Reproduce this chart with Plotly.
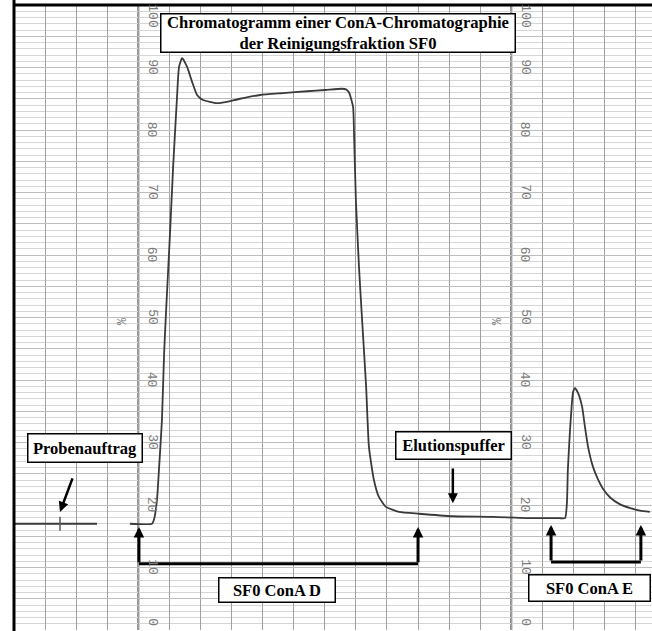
import plotly.graph_objects as go

# ---- data (x: chart-paper divisions, y: % signal) ----
trace_x = [0.03, 2.67, None, 3.73, 4.44, 4.50, 4.60, 4.67, 4.76, 4.83, 4.89, 5.02, 5.12, 5.24, 5.31,
           5.41, 5.57, 5.73, 5.89, 6.08, 6.53, 6.85, 7.27, 7.92, 8.65, 9.43, 10.01, 10.55, 10.68, 10.78,
           10.91, 10.94, 11.00, 11.10, 11.20, 11.33, 11.42, 11.58, 11.74, 11.97, 12.39, 13.03,
           14.12, 15.41, 16.47, 17.54, 17.73, 17.79, 17.82, 17.89, 17.95, 17.99, 18.05, 18.15, 18.28,
           18.37, 18.47, 18.63, 18.79, 18.95, 19.18, 19.50, 19.83, 20.14, 20.46]
trace_y = [17.0, 17.0, None, 17.0, 17.0, 17.6, 20.8, 26.1, 33.6, 44.3, 50.7, 63.5, 74.1, 84.8, 90.1,
           91.5, 90.1, 87.7, 85.6, 84.8, 84.3, 84.5, 85.0, 85.6, 85.9, 86.2, 86.4, 86.6, 86.5, 86.0,
           83.7, 79.5, 68.8, 58.1, 49.6, 38.9, 29.3, 24.0, 21.3, 19.7, 18.9, 18.6,
           18.2, 18.1, 17.9, 17.9, 17.9, 20.3, 25.6, 32.0, 36.3, 38.1, 38.7, 37.9, 35.7,
           32.5, 29.3, 26.1, 24.1, 22.6, 21.2, 20.1, 19.5, 19.1, 18.9]

scale_values = [0, 10, 20, 30, 40, 50, 60, 70, 80, 90, 100]
scale_label_pos = [1.2, 10, 20, 30, 40, 50, 60, 70, 80, 90, 98.3]
scale_columns = [4.45, 16.45]
heavy_lines = [4, 16]
percent_columns = [3.41, 15.47]
percent_level = 49.3
injection_mark_x = [1.48]
injection_mark_y = [17.0]

title_lines = ["Chromatogramm einer ConA-Chromatographie", "der Reinigungsfraktion SF0"]
label_sample = "Probenauftrag"
label_elution = "Elutionspuffer"
label_d = "SF0 ConA D"
label_e = "SF0 ConA E"

# bracket data: (left, right, level, tip)
bracket_d = (4.02, 13.0, 10.6, 16.5)
bracket_e = (17.28, 20.17, 10.9, 16.8)

W, H = 652, 631
ML, MT, MB = 14, 5, 1
px_per_div = 31.08
x_max = (W - ML) / px_per_div

fig = go.Figure()

fig.add_trace(go.Scatter(x=trace_x, y=trace_y, mode="lines",
                         line=dict(color="#3a3a3a", width=1.8, shape="spline", smoothing=0.5),
                         connectgaps=False, hoverinfo="skip", showlegend=False))
fig.add_trace(go.Scatter(x=injection_mark_x, y=injection_mark_y, mode="markers",
                         marker=dict(symbol="line-ns", size=10, line=dict(color="#555", width=1.5)),
                         hoverinfo="skip", showlegend=False))

shapes = []
for hx in heavy_lines:
    shapes.append(dict(type="line", xref="x", yref="paper", x0=hx, x1=hx, y0=0, y1=1,
                       line=dict(color="#666666", width=2), layer="below"))
# paper frame (left and top)
shapes.append(dict(type="line", xref="paper", yref="paper", x0=0, x1=0, y0=-0.01, y1=1.01,
                   line=dict(color="black", width=3)))
shapes.append(dict(type="line", xref="paper", yref="paper", x0=0, x1=1, y0=1, y1=1,
                   line=dict(color="black", width=3)))

annotations = []
serif = dict(family="Liberation Serif", size=16.5, color="black", weight="bold")
serif_title = dict(family="Liberation Serif", size=16.6, color="black", weight="bold")

for col in scale_columns:
    for v, pos in zip(scale_values, scale_label_pos):
        annotations.append(dict(x=col, y=pos, xref="x", yref="y", text=str(v), showarrow=False,
                                textangle=90, font=dict(family="Liberation Mono", size=13, color="#7a7a7a")))
for col in percent_columns:
    annotations.append(dict(x=col, y=percent_level, xref="x", yref="y", text="%", showarrow=False,
                            textangle=90, font=dict(family="Liberation Mono", size=12, color="#7a7a7a")))

def box(text, xc, yc, w, h, font=serif):
    return dict(x=xc, y=yc, xref="x", yref="y", text=text, showarrow=False, font=font,
                bgcolor="white", bordercolor="black", borderwidth=1.5, borderpad=0,
                width=w, height=h, align="center", valign="middle")

annotations.append(box("<br>".join(title_lines), 10.42, 95.5, 353, 37, serif_title))
annotations.append(box(label_sample, 2.29, 29.1, 113, 27))
annotations.append(box(label_elution, 14.14, 29.5, 114, 26))
annotations.append(box(label_d, 8.46, 6.4, 115, 23))
annotations.append(box(label_e, 18.52, 6.7, 120, 25))

def arrow(x, y, ax, ay, w=3, size=0.7):
    return dict(x=x, y=y, ax=ax, ay=ay, xref="x", yref="y", axref="x", ayref="y", text="",
                showarrow=True, arrowhead=2, arrowwidth=w, arrowsize=size, arrowcolor="black", standoff=0)

annotations.append(arrow(1.48, 18.9, 1.90, 24.5, w=2.5, size=0.8))
annotations.append(arrow(14.12, 20.3, 14.12, 26.1, w=2.5, size=0.8))

for (l, r, lev, tip) in (bracket_d, bracket_e):
    shapes.append(dict(type="line", xref="x", yref="y", x0=l, x1=r, y0=lev, y1=lev,
                       line=dict(color="black", width=3)))
    annotations.append(arrow(l, tip, l, lev))
    annotations.append(arrow(r, tip, r, lev))

fig.update_layout(
    width=W, height=H,
    margin=dict(l=ML, r=0, t=MT, b=MB, pad=0),
    paper_bgcolor="white", plot_bgcolor="white",
    xaxis=dict(range=[0, x_max], showgrid=True, dtick=1, tick0=0, gridcolor="#a0a0a0", gridwidth=1,
               zeroline=False, showticklabels=False, showline=False, fixedrange=True),
    yaxis=dict(range=[0, 100], showgrid=True, dtick=5, tick0=0, gridcolor="#bdbdbd", gridwidth=1,
               minor=dict(dtick=1, showgrid=True, gridcolor="#d6d6d6", gridwidth=1),
               zeroline=False, showticklabels=False, showline=False, fixedrange=True),
    shapes=shapes, annotations=annotations, showlegend=False,
)

fig.write_html("out.html", config={"displayModeBar": False},
               post_script="document.body.style.margin='0px';document.body.style.overflow='hidden';")
